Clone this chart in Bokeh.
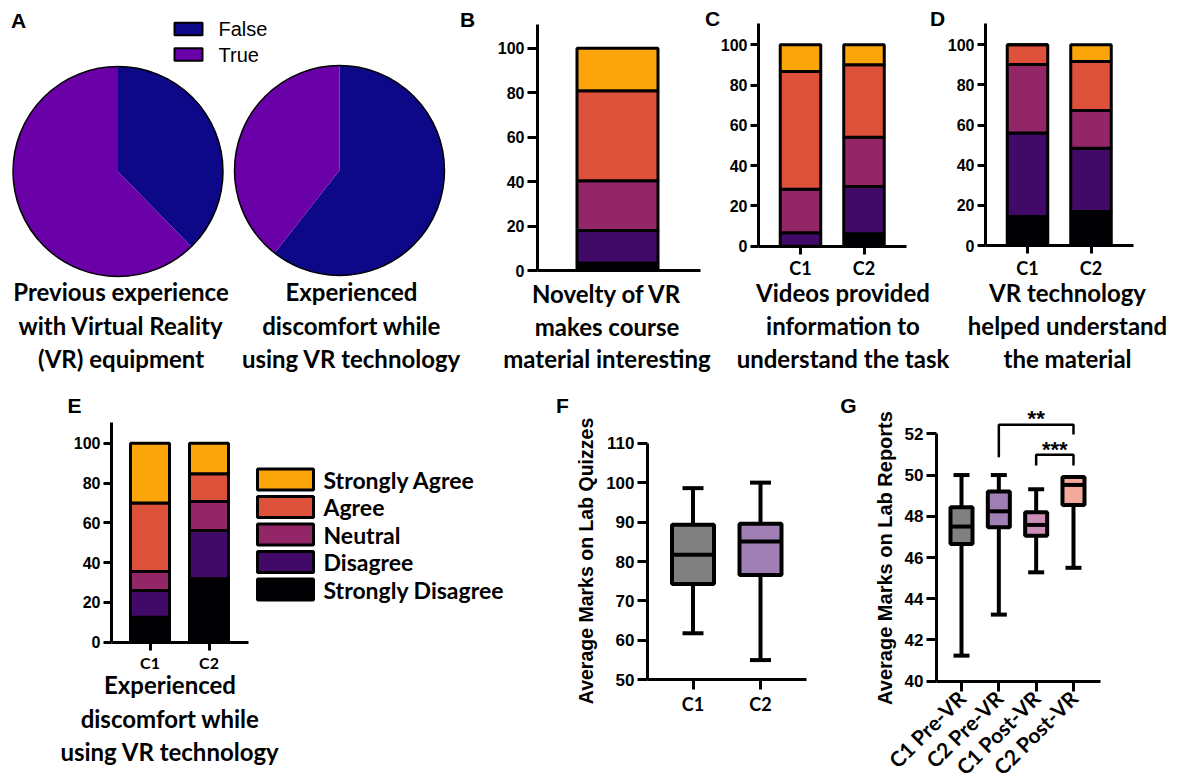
import math
from bokeh.plotting import figure
from bokeh.models import Range1d, FixedTicker, Label, ColumnDataSource, LinearAxis
from bokeh.core.properties import value
from bokeh.embed import file_html
from bokeh.resources import INLINE

# ------------------------------------------------------------------ data
pie_categories = ["False", "True"]
pie_colors = ["#0d0887", "#6a00a8"]
previous_vr_experience = [37.7, 62.3]
vr_discomfort_pie = [60.6, 39.4]

likert_levels = ["Strongly Disagree", "Disagree", "Neutral", "Agree", "Strongly Agree"]
likert_colors = ["#000004", "#420a68", "#932667", "#dd513a", "#fca50a"]
cohorts = ["C1", "C2"]

novelty_all = [3.4, 14.6, 22.4, 40.5, 19.1]
videos_c1 = [0.0, 6.7, 21.6, 58.4, 13.3]
videos_c2 = [6.2, 23.4, 24.5, 36.0, 9.9]
helped_c1 = [14.4, 41.6, 34.2, 9.8, 0.0]
helped_c2 = [16.9, 31.6, 18.8, 24.4, 8.3]
discomfort_c1 = [12.6, 13.4, 9.5, 34.5, 30.0]
discomfort_c2 = [31.9, 24.2, 14.6, 13.9, 15.4]
percent_ticks = [0, 20, 40, 60, 80, 100]

quiz_groups = ["C1", "C2"]
quiz_colors = ["#808080", "#a080b4"]
quiz_min = [61.8, 55.0]
quiz_q1 = [74.3, 76.6]
quiz_median = [81.7, 85.1]
quiz_q3 = [89.3, 89.6]
quiz_max = [98.6, 100.0]
quiz_ticks = [50, 60, 70, 80, 90, 100, 110]

report_groups = ["C1 Pre-VR", "C2 Pre-VR", "C1 Post-VR", "C2 Post-VR"]
report_colors = ["#808080", "#a080b4", "#cc8fb7", "#f2a99b"]
report_min = [41.24, 43.23, 45.28, 45.50]
report_q1 = [46.66, 47.47, 47.06, 48.55]
report_median = [47.50, 48.24, 47.58, 49.52]
report_q3 = [48.44, 49.20, 48.20, 49.90]
report_max = [50.00, 50.00, 49.31, 49.90]
report_ticks = [40, 42, 44, 46, 48, 50, 52]
significance = [("C2 Pre-VR", "C2 Post-VR", "**"), ("C1 Post-VR", "C2 Post-VR", "***")]

# ------------------------------------------------------------------ canvas
W, H = 1175, 778
CAL = "Lato"
ARIAL = "Liberation Sans"

p = figure(width=W, height=H, x_range=Range1d(0, W), y_range=Range1d(0, H),
           output_backend="svg", toolbar_location=None,
           x_axis_location=None, y_axis_location=None, min_border=0)
p.title.visible = False
p.outline_line_color = None
p.background_fill_color = "white"
p.border_fill_color = "white"
p.grid.visible = False
p.xgrid.grid_line_color = None
p.ygrid.grid_line_color = None


def Y(ry):
    return H - ry


def lab(x, y, text, size, font=CAL, style="bold", align="center", baseline="middle",
        angle=0.0, rng=None):
    kw = {}
    if rng is not None:
        kw = dict(x_range_name=rng + "x", y_range_name=rng + "y")
    p.add_layout(Label(x=x, y=y, text=text, text_font=font, text_font_size=f"{size}px",
                       text_font_style=style, text_align=align, text_baseline=baseline,
                       angle=angle, text_color="black", **kw))


# panel geometry (pixels): first category position, pixels per category, axis spans,
# two y calibration points
panels = {
    "B": dict(x1=617, ppu=81.0, xspan=(537, 700), y=((0, 270), (100, 47.7)), ytop=24),
    "C": dict(x1=800, ppu=63.5, xspan=(758, 906), y=((0, 245.7), (100, 44.3)), ytop=23),
    "D": dict(x1=1027, ppu=63.5, xspan=(985, 1133), y=((0, 245), (100, 44.3)), ytop=23),
    "E": dict(x1=149.5, ppu=59.0, xspan=(111, 248), y=((0, 641.7), (100, 442.7)), ytop=422),
    "F": dict(x1=692.5, ppu=67.5, xspan=(647, 806), y=((50, 679.3), (110, 442.7)), ytop=442.7),
    "G": dict(x1=961, ppu=37.33, xspan=(936, 1100), y=((40, 680.7), (52, 433.3)), ytop=433.3),
}

xr, yr = {}, {}
for name, g in panels.items():
    fx = (lambda px, g=g: 1 + (px - g["x1"]) / g["ppu"])
    (v0, p0), (v1, p1) = g["y"]
    fy = (lambda py, v0=v0, p0=p0, v1=v1, p1=p1: v0 + (py - p0) * (v1 - v0) / (p1 - p0))
    g["fx"], g["fy"] = fx, fy
    xr[name + "x"] = Range1d(fx(0), fx(W))
    yr[name + "y"] = Range1d(fy(H), fy(0))
p.extra_x_ranges = xr
p.extra_y_ranges = yr


def axes(name, yticks, ysize, ytick_out, xlabels, xsize, xtick_out, orientation=None):
    g = panels[name]
    fx, fy = g["fx"], g["fy"]
    x_left, x_right = g["xspan"]
    y_base = g["y"][0][0]
    ya = LinearAxis(x_range_name=name + "x", y_range_name=name + "y",
                    fixed_location=fx(x_left), bounds=(y_base, fy(g["ytop"])),
                    ticker=FixedTicker(ticks=yticks))
    ticks = [i + 1 for i in range(len(xlabels))]
    xa = LinearAxis(x_range_name=name + "x", y_range_name=name + "y",
                    fixed_location=y_base, bounds=(fx(x_left), fx(x_right)),
                    ticker=FixedTicker(ticks=ticks),
                    major_label_overrides={t: s for t, s in zip(ticks, xlabels)})
    for ax, font, size, out in ((ya, ARIAL, ysize, ytick_out), (xa, CAL, xsize, xtick_out)):
        ax.axis_line_width = 3
        ax.axis_line_color = "black"
        ax.major_tick_line_width = 3
        ax.major_tick_line_color = "black"
        ax.major_tick_out = out
        ax.major_tick_in = 0
        ax.minor_tick_line_color = None
        ax.major_label_text_font = font
        ax.major_label_text_font_style = "bold"
        ax.major_label_text_font_size = f"{size}px"
        ax.major_label_text_color = "black"
        ax.major_label_standoff = 3
    if orientation is not None:
        xa.major_label_orientation = orientation
    p.add_layout(ya, "left")
    p.add_layout(xa, "below")


def stacked(name, rows, width):
    src = {"x": [i + 1 for i in range(len(rows))]}
    for i, lvl in enumerate(likert_levels):
        src[lvl] = [r[i] for r in rows]
    p.vbar_stack(likert_levels, x="x", width=width, fill_color=likert_colors,
                 line_color="black", line_width=3, source=ColumnDataSource(src),
                 x_range_name=name + "x", y_range_name=name + "y")


def box_plot(name, groups, lo, q1, med, q3, hi, colors, box_w, box_px, cap_px, lw):
    src = ColumnDataSource(dict(g=[i + 1 for i in range(len(groups))], lo=lo, q1=q1, med=med,
                                q3=q3, hi=hi, color=colors))
    kw = dict(source=src, x_range_name=name + "x", y_range_name=name + "y")
    p.segment(x0="g", y0="lo", x1="g", y1="hi", line_color="black", line_width=lw, **kw)
    p.scatter(x="g", y="lo", marker="dash", size=cap_px, line_color="black", line_width=lw, **kw)
    p.scatter(x="g", y="hi", marker="dash", size=cap_px, line_color="black", line_width=lw, **kw)
    p.vbar(x="g", bottom="q1", top="q3", width=box_w, fill_color="color", line_color="black",
           line_width=lw, **kw)
    p.scatter(x="g", y="med", marker="dash", size=box_px, line_color="black", line_width=lw, **kw)


# ------------------------------------------------------------------ panel A (pies)
for (cx, cy), shares in zip([(117.5, 171), (339, 170)], [previous_vr_experience, vr_discomfort_pie]):
    tot = sum(shares)
    cum = [0.0]
    for s in shares:
        cum.append(cum[-1] + s / tot)
    starts = [math.pi / 2 - 2 * math.pi * c for c in cum[:-1]]
    ends = [math.pi / 2 - 2 * math.pi * c for c in cum[1:]]
    n = len(shares)
    p.wedge(x=[cx] * n, y=[Y(cy)] * n, radius=105, start_angle=starts, end_angle=ends,
            direction="clock", fill_color=pie_colors, line_color=None)
    p.circle(x=[cx], y=[Y(cy)], radius=105, fill_color=None, line_color="black", line_width=1.5)

leg_y = [Y(28.5 + 25.5 * i) for i in range(len(pie_categories))]
p.rect(x=[188] * len(pie_categories), y=leg_y, width=28, height=12.5, fill_color=pie_colors,
       line_color="black", line_width=2)
p.text(x=[218] * len(pie_categories), y=leg_y, text=pie_categories, text_font=value(ARIAL),
       text_font_size=value("20px"), text_baseline="middle", text_align="left", text_color="black")

for i, line in enumerate(["Previous experience", "with Virtual Reality", "(VR) equipment"]):
    lab(120.5, Y(291 + 33.5 * i), line, 24)
for i, line in enumerate(["Experienced", "discomfort while", "using VR technology"]):
    lab(351, Y(291 + 33.5 * i), line, 24)

# ------------------------------------------------------------------ panels B, C, D, E
axes("B", percent_ticks, 16, 10, [], 17, 0)
stacked("B", [novelty_all], 1.0)
for i, line in enumerate(["Novelty of VR", "makes course", "material interesting"]):
    lab(606.5, Y(293 + 32.5 * i), line, 24)

axes("C", percent_ticks, 16, 8, cohorts, 18, 8)
stacked("C", [videos_c1, videos_c2], 0.638)
for i, line in enumerate(["Videos provided", "information to", "understand the task"]):
    lab(842.5, Y(292 + 33 * i), line, 24)

axes("D", percent_ticks, 16, 8, cohorts, 18, 8)
stacked("D", [helped_c1, helped_c2], 0.638)
for i, line in enumerate(["VR technology", "helped understand", "the material"]):
    lab(1067, Y(292 + 33 * i), line, 24)

axes("E", percent_ticks, 16, 8, cohorts, 16, 8)
stacked("E", [discomfort_c1, discomfort_c2], 0.66)
for i, line in enumerate(["Experienced", "discomfort while", "using VR technology"]):
    lab(169.5, Y(684 + 33.5 * i), line, 24)

# Likert legend
lev = likert_levels[::-1]
col = likert_colors[::-1]
ly = [Y(479 + 27.5 * i) for i in range(len(lev))]
p.rect(x=[285] * len(lev), y=ly, width=56, height=21, fill_color=col, line_color="black", line_width=3)
p.text(x=[323] * len(lev), y=ly, text=lev, text_font=value(CAL), text_font_size=value("23px"),
       text_font_style="bold", text_baseline="middle", text_align="left", text_color="black")

# ------------------------------------------------------------------ panel F
axes("F", quiz_ticks, 17, 10, quiz_groups, 18, 10)
box_plot("F", quiz_groups, quiz_min, quiz_q1, quiz_median, quiz_q3, quiz_max, quiz_colors,
         0.622, 42, 21, 4)
lab(585, Y(560.5), "Average Marks on Lab Quizzes", 19.5, ARIAL, angle=math.pi / 2)

# ------------------------------------------------------------------ panel G
axes("G", report_ticks, 17, 10, report_groups, 21, 10, orientation=math.pi / 4)
box_plot("G", report_groups, report_min, report_q1, report_median, report_q3, report_max,
         report_colors, 0.59, 22, 16, 4)
lab(884, Y(557.5), "Average Marks on Lab Reports", 20, ARIAL, angle=math.pi / 2)

bracket_levels = [(52.44, 50.86, 51.97), (50.98, 50.46, 50.46)]
star_levels = [52.73, 51.24]
xs, ys = [], []
for (a, b, stars), (top, left_end, right_end), sy in zip(significance, bracket_levels, star_levels):
    ia, ib = report_groups.index(a) + 1, report_groups.index(b) + 1
    xs.append([ia, ia, ib, ib])
    ys.append([left_end, top, top, right_end])
    lab((ia + ib) / 2, sy, stars, 22, ARIAL, baseline="alphabetic", rng="G")
p.multi_line(xs=xs, ys=ys, line_color="black", line_width=2.5, x_range_name="Gx", y_range_name="Gy")

# ------------------------------------------------------------------ panel letters
for letter, (lx, ly_) in zip("ABCDEFG", [(18, 20), (467, 19), (712, 18), (937, 18),
                                         (74, 405), (562, 405), (848, 405)]):
    lab(lx, Y(ly_), letter, 21, ARIAL)

open("out.html", "w").write(file_html(p, INLINE))
